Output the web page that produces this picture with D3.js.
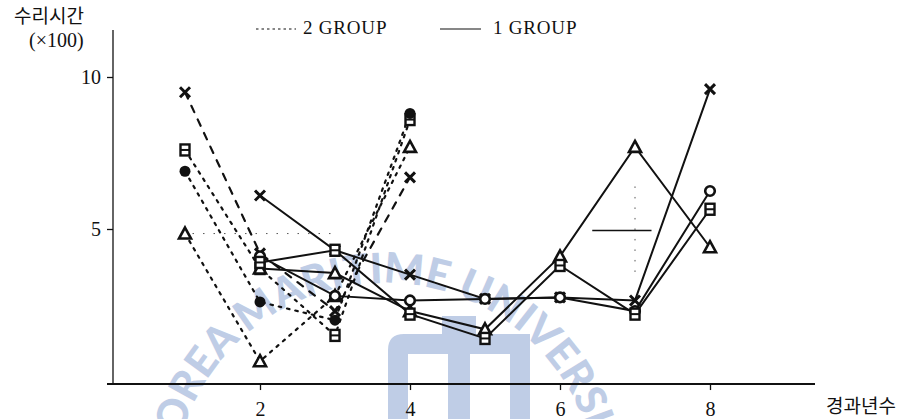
<!DOCTYPE html>
<html>
<head>
<meta charset="utf-8">
<script src="https://cdn.jsdelivr.net/npm/d3@7"></script>
<style>
  html, body { margin: 0; padding: 0; background: #fff; }
  svg { display: block; }
  .serif { font-family: "Liberation Serif", "DejaVu Serif", serif; }
  .kr { font-family: "Noto Sans CJK KR", sans-serif; }
</style>
</head>
<body>
<svg id="chart" width="916" height="419"></svg>
<script>
// Years of operation for each group
const yearsGroup2 = [1, 2, 3, 4];
const yearsGroup1 = [2, 3, 4, 5, 6, 7, 8];

// 2 GROUP (dashed / dotted), repair time ×100
const g2Cross  = [9.5, 4.2, 2.3, 6.7];
const g2Square = [7.6, 3.7, 1.5, 8.6];
const g2Dot    = [6.9, 2.6, 2.0, 8.8];
const g2Tri    = [4.85, 0.65, 2.8, 7.7];

// 1 GROUP (solid), repair time ×100
const g1Cross  = [6.1, 4.3, 3.5, 2.7, 2.75, 2.65, 9.6];
const g1Tri    = [3.7, 3.55, 2.3, 1.7, 4.1, 7.7, 4.4];
const g1Ring   = [4.1, 2.8, 2.65, 2.7, 2.75, 2.3, 6.25];
const g1Square = [3.9, 4.3, 2.2, 1.4, 3.8, 2.2, 5.65];

// Axis ticks and labels
const xTicks = [2, 4, 6, 8];
const yTicks = [5, 10];
const yTitle = "수리시간";
const yUnit = "(×100)";
const xTitle = "경과년수";
const legendLabels = ["2 GROUP", "1 GROUP"];
const watermarkText = "KOREA MARITIME UNIVERSITY";

const svg = d3.select("#chart");
const ink = "#111";

const x = d3.scaleLinear().domain([0, 9.4]).range([110, 815]);
const y = d3.scaleLinear().domain([0, 10]).range([381, 77]);

// ---- faint watermark ----
const wm = svg.append("g").attr("fill", "#bfcde6");
const arcCx = 385, arcCy = 495;
svg.append("defs").append("path")
  .attr("id", "wmArc")
  .attr("d", d3.arc()({innerRadius: 212, outerRadius: 212, startAngle: -1.42, endAngle: 2.4})
        .split("L")[0]);
wm.append("text")
  .attr("transform", `translate(${arcCx},${arcCy})`)
  .attr("font-family", "Lato, 'DejaVu Sans', sans-serif")
  .attr("font-weight", 900)
  .attr("font-size", 42)
  .append("textPath")
  .attr("href", "#wmArc")
  .text(watermarkText);
// stylised emblem at the bottom centre
const emb = wm.append("g");
emb.append("path").attr("d", "M388,419 L388,350 Q388,334 404,334 L530,334 L530,419 L510,419 L510,354 L470,354 L470,419 L448,419 L448,354 L408,354 L408,419 Z");
emb.append("rect").attr("x", 442).attr("y", 316).attr("width", 34).attr("height", 20);

// ---- axes ----
const yAxis = d3.axisLeft(y).tickValues(yTicks).tickSize(6).tickFormat(d3.format("d"));
const gy = svg.append("g").attr("transform", `translate(${x(0) + 3},0)`).call(yAxis);
gy.select(".domain").remove();
gy.append("line").attr("x1", 0).attr("x2", 0).attr("y1", 30).attr("y2", y(-0.1))
  .attr("stroke", ink).attr("stroke-width", 1.3);
gy.selectAll(".tick line").attr("stroke", ink).attr("stroke-width", 1.3);
gy.selectAll(".tick text").attr("class", "serif").attr("font-size", 20)
  .attr("fill", ink).attr("x", -12);

const xAxis = d3.axisBottom(x).tickValues(xTicks).tickSize(6).tickFormat(d3.format("d"));
const gx = svg.append("g").attr("transform", `translate(0,${y(-0.1)})`).call(xAxis);
gx.select(".domain").remove();
gx.append("line").attr("x1", 107).attr("x2", 815).attr("y1", 0).attr("y2", 0)
  .attr("stroke", ink).attr("stroke-width", 2);
gx.selectAll(".tick line").attr("stroke", ink).attr("stroke-width", 1.3);
gx.selectAll(".tick text").attr("class", "serif").attr("font-size", 20)
  .attr("fill", ink).attr("dy", "1.15em");

svg.append("text").attr("class", "kr").attr("x", 14).attr("y", 23)
  .attr("font-size", 19).attr("fill", ink).text(yTitle);
svg.append("text").attr("class", "serif").attr("x", 29).attr("y", 47)
  .attr("font-size", 20).attr("fill", ink).text(yUnit);
svg.append("text").attr("class", "kr").attr("x", 826).attr("y", 413)
  .attr("font-size", 19).attr("fill", ink).text(xTitle);

// ---- legend ----
const lg = svg.append("g");
lg.append("line").attr("x1", 256).attr("x2", 296).attr("y1", 29).attr("y2", 29)
  .attr("stroke", ink).attr("stroke-width", 1.2).attr("stroke-dasharray", "2.5,3");
lg.append("text").attr("class", "serif").attr("x", 303).attr("y", 34)
  .attr("font-size", 19).attr("letter-spacing", 0.8).attr("fill", ink).text(legendLabels[0]);
lg.append("line").attr("x1", 440).attr("x2", 481).attr("y1", 29).attr("y2", 29)
  .attr("stroke", ink).attr("stroke-width", 1.2);
lg.append("text").attr("class", "serif").attr("x", 493).attr("y", 34)
  .attr("font-size", 19).attr("letter-spacing", 0.8).attr("fill", ink).text(legendLabels[1]);

// ---- faint guide marks ----
svg.append("line").attr("x1", x(1.1)).attr("x2", x(3.0)).attr("y1", y(4.85)).attr("y2", y(4.85))
  .attr("stroke", ink).attr("stroke-width", 1).attr("stroke-dasharray", "1.5,9").attr("opacity", 0.7);
svg.append("line").attr("x1", x(6.43)).attr("x2", x(7.22)).attr("y1", y(4.95)).attr("y2", y(4.95))
  .attr("stroke", ink).attr("stroke-width", 1.4);
svg.append("line").attr("x1", x(7)).attr("x2", x(7)).attr("y1", y(6.4)).attr("y2", y(3.5))
  .attr("stroke", ink).attr("stroke-width", 1).attr("stroke-dasharray", "1.5,9").attr("opacity", 0.7);

// ---- series ----
const line = d3.line().x(d => x(d[0])).y(d => y(d[1]));
const pair = (years, vals) => years.map((yr, i) => [yr, vals[i]]);

const group2 = [
  {vals: g2Cross,  marker: "cross",  dash: "7,8"},
  {vals: g2Square, marker: "square", dash: "2.5,6"},
  {vals: g2Dot,    marker: "dot",    dash: "2.5,6"},
  {vals: g2Tri,    marker: "tri",    dash: "2.5,6"}
];
const group1 = [
  {vals: g1Cross,  marker: "cross"},
  {vals: g1Tri,    marker: "tri"},
  {vals: g1Ring,   marker: "ring"},
  {vals: g1Square, marker: "square"}
];

const lines = svg.append("g").attr("fill", "none").attr("stroke", ink);
group2.forEach(s => {
  lines.append("path").datum(pair(yearsGroup2, s.vals)).attr("d", line)
    .attr("stroke-width", 2.2).attr("stroke-dasharray", s.dash).attr("stroke-linecap", "round");
});
group1.forEach(s => {
  lines.append("path").datum(pair(yearsGroup1, s.vals)).attr("d", line)
    .attr("stroke-width", 2);
});

function drawMarker(g, kind) {
  if (kind === "cross") {
    g.append("path").attr("d", "M-5,-5L5,5M5,-5L-5,5")
      .attr("stroke", ink).attr("stroke-width", 3).attr("fill", "none");
  } else if (kind === "tri") {
    g.append("path").attr("d", "M0,-6L6,5L-6,5Z")
      .attr("stroke", ink).attr("stroke-width", 2.6).attr("fill", "#fff");
  } else if (kind === "ring") {
    g.append("circle").attr("r", 4.8)
      .attr("stroke", ink).attr("stroke-width", 2.6).attr("fill", "#fff");
  } else if (kind === "square") {
    g.append("rect").attr("x", -4.5).attr("y", -5.5).attr("width", 9).attr("height", 11)
      .attr("stroke", ink).attr("stroke-width", 2.4).attr("fill", "#fff");
    g.append("line").attr("x1", -4.5).attr("x2", 4.5).attr("y1", 0).attr("y2", 0)
      .attr("stroke", ink).attr("stroke-width", 2);
  } else {
    g.append("circle").attr("r", 5.5).attr("fill", ink);
  }
}

const marks = svg.append("g");
[[group2, yearsGroup2], [group1, yearsGroup1]].forEach(([grp, years]) => {
  grp.forEach(s => {
    pair(years, s.vals).forEach(d => {
      const g = marks.append("g").attr("transform", `translate(${x(d[0])},${y(d[1])})`);
      drawMarker(g, s.marker);
    });
  });
});
</script>
</body>
</html>
